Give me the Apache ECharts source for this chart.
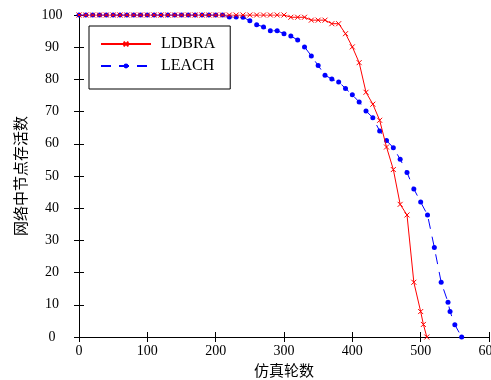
<!DOCTYPE html>
<html>
<head>
<meta charset="utf-8">
<script src="https://cdn.jsdelivr.net/npm/echarts@6/dist/echarts.min.js"></script>
<style>html,body{margin:0;padding:0;background:#fff;}#c{width:491px;height:380px;}</style>
</head>
<body>
<div id="c"></div>
<script>
var xTicks = [0, 100, 200, 300, 400, 500, 600];
var yTicks = [0, 10, 20, 30, 40, 50, 60, 70, 80, 90, 100];

var ldbraRounds = [0,10,20,30,40,50,60,70,80,90,100,110,120,130,140,150,160,170,180,190,200,210,220,230,240,250,260,270,280,290,300,
  310,320,330,340,350,360,370,380,390,400,410,420,430,440,450,460,470,480,490,500,504,509];
var ldbraAlive = [100,100,100,100,100,100,100,100,100,100,100,100,100,100,100,100,100,100,100,100,100,100,100,100,100,100,100,100,100,100,100,
  99.3,99.3,99.3,98.4,98.4,98.4,97.3,97.3,94.2,90.1,85.2,76,72.3,67.3,59,52,41.2,37.9,17,7.9,3.9,0];

var leachRounds = [0,10,20,30,40,50,60,70,80,90,100,110,120,130,140,150,160,170,180,190,200,210,
  220,230,240,250,260,270,280,290,300,310,320,330,340,350,360,370,380,390,400,410,420,430,440,450,460,470,480,490,500,510,520,530,540,543,550,560];
var leachAlive = [100,100,100,100,100,100,100,100,100,100,100,100,100,100,100,100,100,100,100,100,100,100,
  99.4,99.4,99.3,98.2,97,96.3,95.1,95.1,94.2,93.5,92.2,90.1,87.3,84.3,81.3,80.1,79.2,77.2,75.2,73,70.2,68.1,64,61,58.8,55.2,51.1,46,41.9,37.9,27.8,17,10.8,7.9,3.8,0];

function pairs(xs, ys) { return xs.map(function (x, i) { return [x, ys[i]]; }); }

var serif = 'Liberation Serif, Times New Roman, serif';
var cjk = 'Noto Sans CJK SC';

var chart = echarts.init(document.getElementById('c'), null, {renderer: 'canvas'});
var axisLine = {show: true, lineStyle: {color: '#000', width: 1}};
var tick = {show: true, inside: true, length: 5, lineStyle: {color: '#000', width: 1}};
chart.setOption({
  backgroundColor: '#fff',
  animation: false,
  grid: {left: 79, right: 2, top: 15, bottom: 43, containLabel: false, outerBoundsMode: 'none'},
  legend: {
    data: ['LDBRA', 'LEACH'],
    orient: 'vertical',
    left: 89, top: 26,
    padding: [9, 15, 14, 11],
    itemGap: 4,
    itemWidth: 50, itemHeight: 6,
    borderColor: '#000', borderWidth: 1,
    backgroundColor: '#fff',
    textStyle: {fontFamily: serif, fontSize: 16, color: '#000', padding: [0, 0, 0, 5], lineHeight: 18}
  },
  xAxis: [{
    type: 'value', min: 0, max: 600, interval: 100,
    name: '仿真轮数', nameLocation: 'middle', nameGap: 25,
    nameTextStyle: {fontFamily: cjk, fontSize: 15, color: '#000'},
    axisLine: axisLine, axisTick: tick, splitLine: {show: false},
    axisLabel: {fontFamily: serif, fontSize: 14, color: '#000', margin: 7,
      formatter: function (v) { return xTicks.indexOf(v) >= 0 ? String(v) : ''; }}
  }, {
    type: 'value', min: 0, max: 600, interval: 100, position: 'top',
    axisLine: axisLine, axisTick: tick, axisLabel: {show: false}, splitLine: {show: false}
  }],
  yAxis: [{
    type: 'value', min: 0, max: 100, interval: 10,
    name: '网络中节点存活数', nameLocation: 'middle', nameGap: 51, nameRotate: 90,
    nameTextStyle: {fontFamily: cjk, fontSize: 15, color: '#000'},
    axisLine: axisLine, axisTick: tick, splitLine: {show: false},
    axisLabel: {fontFamily: serif, fontSize: 14, color: '#000', margin: 27, align: 'center',
      formatter: function (v) { return yTicks.indexOf(v) >= 0 ? String(v) : ''; }}
  }, {
    type: 'value', min: 0, max: 100, interval: 10, position: 'right',
    axisLine: axisLine, axisTick: tick, axisLabel: {show: false}, splitLine: {show: false}
  }],
  series: [{
    name: 'LEACH', type: 'line', data: pairs(leachRounds, leachAlive),
    symbol: 'circle', symbolSize: 5, showAllSymbol: true,
    lineStyle: {color: '#0000ff', width: 1, type: [10, 8]},
    itemStyle: {color: '#0000ff'}, z: 2
  }, {
    name: 'LDBRA', type: 'line', data: pairs(ldbraRounds, ldbraAlive),
    symbol: 'path://M0,0L10,10M10,0L0,10', symbolSize: 5, showAllSymbol: true,
    lineStyle: {color: '#ff0000', width: 1},
    itemStyle: {color: '#ff0000', borderColor: '#ff0000', borderWidth: 1}, z: 3
  }]
});
</script>
</body>
</html>
